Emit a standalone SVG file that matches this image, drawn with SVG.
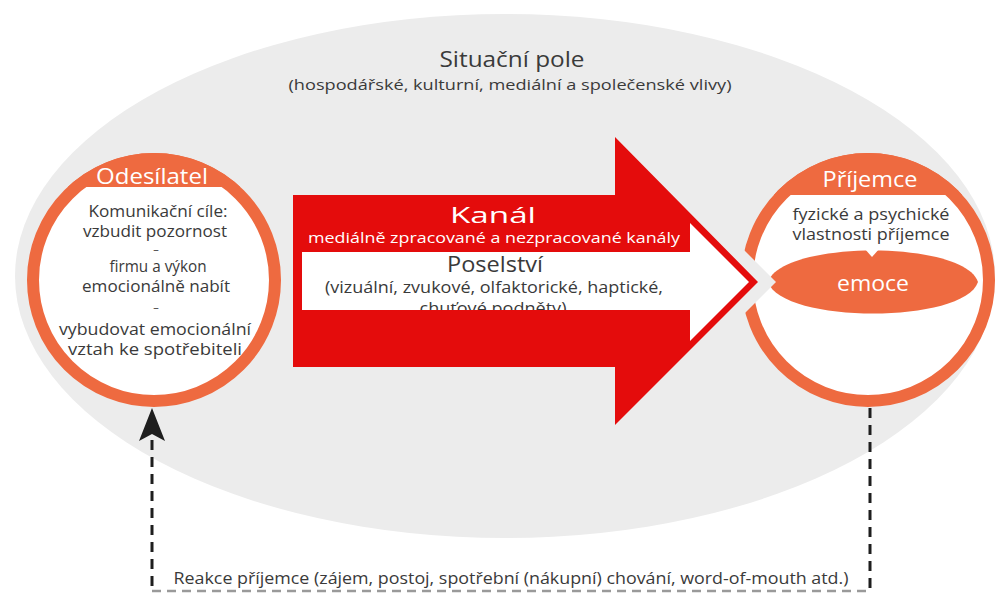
<svg xmlns="http://www.w3.org/2000/svg" width="996" height="597" viewBox="0 0 996 597">
<style>
text{font-family:"Open Sans","Liberation Sans",sans-serif;text-anchor:middle}
.dk{fill:#3a3a3a}
.wh{fill:#ffffff}
.ring{fill:#ffffff;stroke:#ee6a40;stroke-width:12}
.or{fill:#ee6a40}
.vd{stroke:#1e1e1e;stroke-width:3;stroke-dasharray:10 7;fill:none}
.hd{stroke:#9a9a9a;stroke-width:2.5;stroke-dasharray:9 6;fill:none}
</style>
<defs>
<clipPath id="clL"><circle cx="154" cy="280" r="127"/></clipPath>
<clipPath id="clR"><circle cx="868" cy="280" r="127"/></clipPath>
<clipPath id="clBand"><rect x="290" y="240" width="420" height="70"/></clipPath>
</defs>
<rect width="996" height="597" fill="#ffffff"/>
<g id="situacni-pole">
<ellipse cx="505" cy="276" rx="490" ry="262" fill="#ececec"/>
<text class="dk" x="512" y="67" font-size="22" textLength="145" lengthAdjust="spacingAndGlyphs">Situační pole</text>
<text class="dk" x="510" y="90" font-size="15" textLength="443" lengthAdjust="spacingAndGlyphs">(hospodářské, kulturní, mediální a společenské vlivy)</text>
</g>
<g id="odesilatel">
<circle class="ring" cx="154" cy="280" r="121"/>
<rect class="or" x="20" y="140" width="270" height="47" clip-path="url(#clL)"/>
<text class="wh" x="152" y="184" font-size="22" textLength="112" lengthAdjust="spacingAndGlyphs">Odesílatel</text>
<text class="dk" x="158" y="217" font-size="16" textLength="139" lengthAdjust="spacingAndGlyphs">Komunikační cíle:</text>
<text class="dk" x="155" y="237" font-size="16" textLength="144" lengthAdjust="spacingAndGlyphs">vzbudit pozornost</text>
<text class="dk" x="156" y="253" font-size="11">–</text>
<text class="dk" x="158" y="272" font-size="16" textLength="97" lengthAdjust="spacingAndGlyphs">firmu a výkon</text>
<text class="dk" x="156" y="292" font-size="16" textLength="148" lengthAdjust="spacingAndGlyphs">emocionálně nabít</text>
<text class="dk" x="156" y="311" font-size="11">–</text>
<text class="dk" x="155" y="335" font-size="16" textLength="192" lengthAdjust="spacingAndGlyphs">vybudovat emocionální</text>
<text class="dk" x="155" y="355" font-size="16" textLength="174" lengthAdjust="spacingAndGlyphs">vztah ke spotřebiteli</text>
</g>
<g id="prijemce">
<circle class="ring" cx="868" cy="280" r="121"/>
<rect class="or" x="730" y="140" width="270" height="55" clip-path="url(#clR)"/>
<text class="wh" x="870" y="187" font-size="22" textLength="95" lengthAdjust="spacingAndGlyphs">Příjemce</text>
<text class="dk" x="871" y="220" font-size="16" textLength="157" lengthAdjust="spacingAndGlyphs">fyzické a psychické</text>
<text class="dk" x="871" y="240" font-size="16" textLength="157" lengthAdjust="spacingAndGlyphs">vlastnosti příjemce</text>
<path class="or" d="M768,282 C782,240 964,240 978,282 C964,324 782,324 768,282 Z"/>
<polygon fill="#ffffff" points="864,248 880,248 872,257"/>
<text class="wh" x="873" y="291" font-size="21" textLength="72" lengthAdjust="spacingAndGlyphs">emoce</text>
<polygon fill="#ececec" points="718,224 776,282 718,340"/>
</g>
<g id="kanal">
<polygon fill="#e40c0c" points="293,195 615,195 615,137 758,282 615,425 615,367 293,367"/>
<polygon fill="#ffffff" points="302,252 690,252 690,223 749,282 690,341 690,310 302,310"/>
<text class="wh" x="493" y="223" font-size="21" textLength="86" lengthAdjust="spacingAndGlyphs">Kanál</text>
<text class="wh" x="494" y="243" font-size="15" textLength="372" lengthAdjust="spacingAndGlyphs">mediálně zpracované a nezpracované kanály</text>
<text class="dk" x="495" y="272" font-size="21" textLength="96" lengthAdjust="spacingAndGlyphs">Poselství</text>
<text class="dk" x="494" y="293" font-size="16" textLength="338" lengthAdjust="spacingAndGlyphs">(vizuální, zvukové, olfaktorické, haptické,</text>
<text class="dk" x="493" y="314" font-size="16" textLength="147" lengthAdjust="spacingAndGlyphs" clip-path="url(#clBand)">chuťové podněty)</text>
</g>
<g id="connectors">
<line class="vd" x1="152" y1="440" x2="152" y2="592"/>
<path d="M152,408 L165,441 L152,434 L139,441 Z" fill="#1e1e1e"/>
<line class="vd" x1="870" y1="408" x2="870" y2="592"/>
<line class="hd" x1="152" y1="591" x2="870" y2="591"/>
</g>
<g id="reakce">
<text class="dk" x="511" y="584" font-size="16" textLength="675" lengthAdjust="spacingAndGlyphs">Reakce příjemce (zájem, postoj, spotřební (nákupní) chování, word-of-mouth atd.)</text>
</g>
</svg>
